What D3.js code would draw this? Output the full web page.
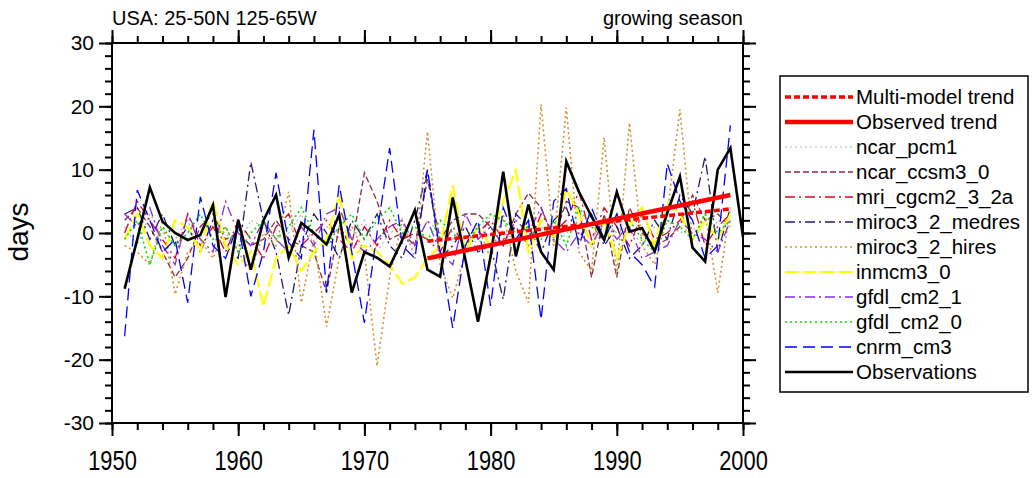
<!DOCTYPE html>
<html>
<head>
<meta charset="utf-8">
<script src="https://cdn.jsdelivr.net/npm/d3@7"></script>
<style>
  body { margin: 0; background: #fff; }
  svg { display: block; font-family: "Liberation Sans", Arial, sans-serif; }
</style>
</head>
<body>
<svg id="chart" width="1032" height="478"></svg>
<script>
// years of the model runs and of the observations
const modelYears = d3.range(1951, 2000);
const obsYears = d3.range(1951, 2001);

const xTicks = [1950, 1960, 1970, 1980, 1990, 2000];
const yTicks = [-30, -20, -10, 0, 10, 20, 30];

const observations = [-8.8, -1.0, 7.2, 1.8, 0.0, -1.1, -0.3, 4.4, -10.1, 2.1,
  -5.8, 2.0, 6.0, -3.9, 1.6, 0.0, -1.8, 2.9, -9.4, -3.0,
  -3.9, -5.3, -1.1, 3.6, -5.8, -6.9, 5.6, -4.2, -14.0, -3.7,
  9.7, -3.7, 4.5, -3.0, -5.8, 11.3, 6.5, 2.6, -1.1, 6.5,
  0.2, 0.8, -2.9, 3.2, 8.9, -2.3, -4.5, 10.0, 13.4, -0.6];

const ncar_pcm1 = [1, -2, 3, 0, -1, 2, -3, 1, 0, -2,
  2, 1, -1, 0, 3, -2, 1, 0, -1, 2,
  -3, 0, 1, -2, 2, 0, -1, 1, -2, 3,
  0, -1, 2, 1, -2, 0, 1, -1, 2, 0,
  1, -2, 1, 2, 0, 1, -1, 2, 1];
const ncar_ccsm3_0 = [2, 4, 1, -3, -7, -4, 1, 3, -1, 0,
  -2, -1, 2, -1, -2, -3, -9.4, 1, -2, 9.5,
  5, -1, 0, -2, 8.5, -1, 2, 3, 3, 1,
  -2, 3, 6.3, 4, -1, 5, 4, -7, 3, -7,
  4, 0, -2, -1, 1, 6, 2, 3, 1];
const mri_cgcm2_3_2a = [0, 5, 2, -1, -4, 3, -2, 1, -3, 2,
  -1, -4, 1, 3, -2, 0, 2, -1, -3, 1,
  -2, 2, -1, 0, -1, -3, 1, -2, 0, 2,
  -1, 1, -2, 3, 0, 2, 6.5, -1, 4, 1,
  -2, 3, -1, 0, 2, 5, -2, 1, 3];
const miroc3_2_medres = [3, 4, -1, 3, -2, 1, -3, 2, -2, -4,
  11.2, 2, -3, -13, -2, 3, 0, -4, 2, -1,
  3, -2, -4, 2, 10, -4, -2, 1, -3, -2,
  -10.5, 3, 1, -3, 2, 4, -1, 3, -2, 1,
  -4, -2, 2, -1, 6, 3, 12.1, -3, 4];
const miroc3_2_hires = [-2, -3, -5, 2, -9.7, -3, -1, -4, 1, -3,
  -6, 0, -2, 6.5, -11, -1, -14.8, -4, 1, -3,
  -21, -7, 2, -4, 16, -5, -10.3, -3, 1, -4,
  3, -6, -11, 20.3, -2, 19.8, -3, -6, 15.1, -6.6,
  17.4, -2, -5, 3, 19.5, -1, 3, -9.4, 4];
const inmcm3_0 = [-1, 3, -2, -4, 2, 1, -3, 5, -2, -5,
  -3, -11.6, -4, -2, -6, -3, -1, 6, -4, -2,
  -3, -5, -8, -7, -4, -2, 7.5, -3, 1, -2,
  5, 9.9, -3, 2, -1, 7, 3, -2, 2, -4,
  1, 4, -2, 5, 3, -1, 2, -1, 3];
const gfdl_cm2_1 = [3, 1, 4, -2, -5, 3, -1, -3, 5, 0,
  -2, 2, -1, -3, 1, -2, 3, 4, -1, -3,
  -1, 1, 2, -2, 2, -3, -5, 3, -1, 1,
  -2, 2, 0, 4, -1, -3, 0, -2, 2, -1,
  1, -4, -3, -2, 2, 0, -1, -3, 2];
const gfdl_cm2_0 = [-1, 2, -5, 1, -2, 0, 3, -1, 1, -3,
  0, 2, -1, 1, 4, 0, -2, 1, 3, -1,
  2, 4, 0, 1, -1, 2, 0, -2, 1, 3,
  2, 0, 1, -1, 2, -2, 4, 1, -1, 3,
  2, -1, -3, 2, 1, -1, 3, 0, 2];
const cnrm_cm3 = [-16.3, 6.8, 2, -3, -1, -11, 5.7, -2, -4, 1.5,
  -10, -3, 9.5, -1.5, -4, 16.3, -9.4, 7.6, -3, -14.2,
  0, 13.4, -2, -4, 10, -3, -15, -2, 2, -11.5,
  4, -1, 2, -13.7, 5, 7, -2, 4, -1, 3,
  -3, -5, -8.5, 11, 5, 2, -4, -2, 17];

// linear trends over 1975-1999: [start, end]
const trendYears = [1975, 1999];
const observedTrend = [-4.0, 6.0];
const multiModelTrend = [-1.3, 3.8];

const series = [
  { name: "ncar_pcm1", values: ncar_pcm1, color: "#b4b4b4", width: 1.2, dash: "2,3" },
  { name: "ncar_ccsm3_0", values: ncar_ccsm3_0, color: "#8c2a3c", width: 1.3, dash: "6,3" },
  { name: "mri_cgcm2_3_2a", values: mri_cgcm2_3_2a, color: "#e8001c", width: 1.3, dash: "10,4,2,4" },
  { name: "miroc3_2_medres", values: miroc3_2_medres, color: "#1c1c70", width: 1.3, dash: "10,4,2,4" },
  { name: "miroc3_2_hires", values: miroc3_2_hires, color: "#d2902e", width: 1.6, dash: "2,3" },
  { name: "inmcm3_0", values: inmcm3_0, color: "#ffff00", width: 2.2, dash: "14,4" },
  { name: "gfdl_cm2_1", values: gfdl_cm2_1, color: "#8a2be2", width: 1.3, dash: "10,4,2,4" },
  { name: "gfdl_cm2_0", values: gfdl_cm2_0, color: "#00e000", width: 1.6, dash: "2,3" },
  { name: "cnrm_cm3", values: cnrm_cm3, color: "#0000ff", width: 1.3, dash: "12,6" }
];

const svg = d3.select("#chart");
const frame = { left: 112, right: 743, top: 43, bottom: 423 };

const x = d3.scaleLinear().domain([1950, 2000]).range([frame.left, frame.right]);
const y = d3.scaleLinear().domain([-30, 30]).range([frame.bottom, frame.top]);

const line = d3.line().x(d => x(d[0])).y(d => y(d[1]));

// model runs
series.forEach(s => {
  svg.append("path")
    .datum(modelYears.map((yr, i) => [yr, s.values[i]]))
    .attr("d", line)
    .attr("fill", "none")
    .attr("stroke", s.color)
    .attr("stroke-width", s.width)
    .attr("stroke-dasharray", s.dash);
});

// observations
svg.append("path")
  .datum(obsYears.map((yr, i) => [yr, observations[i]]))
  .attr("d", line)
  .attr("fill", "none")
  .attr("stroke", "#000")
  .attr("stroke-width", 2.6)
  .attr("stroke-linejoin", "miter");

// trends
svg.append("path")
  .datum(trendYears.map((yr, i) => [yr, multiModelTrend[i]]))
  .attr("d", line)
  .attr("fill", "none")
  .attr("stroke", "#ff0000")
  .attr("stroke-width", 3.5)
  .attr("stroke-dasharray", "6,3");

svg.append("path")
  .datum(trendYears.map((yr, i) => [yr, observedTrend[i]]))
  .attr("d", line)
  .attr("fill", "none")
  .attr("stroke", "#ff0000")
  .attr("stroke-width", 4.5);

// axes: outward major and minor ticks on all four sides
function styleAxis(g) {
  g.select(".domain").remove();
  g.selectAll("line").attr("stroke", "#000").attr("stroke-width", 2);
}

const minorX = d3.range(1950, 2001, 2);
const minorY = d3.range(-30, 31, 2);
const plain = d => String(d);  // hyphen minus, like the original

[["bottom", frame.bottom, d3.axisBottom], ["top", frame.top, d3.axisTop]].forEach(([side, pos, fn]) => {
  svg.append("g").attr("transform", `translate(0,${pos})`)
    .call(fn(x).tickValues(minorX).tickSize(7).tickFormat(""))
    .call(styleAxis);
  const g = svg.append("g").attr("transform", `translate(0,${pos})`)
    .call(fn(x).tickValues(xTicks).tickSize(13).tickPadding(14).tickFormat(plain))
    .call(styleAxis);
  if (side === "bottom") {
    g.selectAll("text")
      .attr("font-size", 28)
      .attr("transform", "scale(0.78,1)")
      .attr("fill", "#000");
  } else {
    g.selectAll("text").remove();
  }
});

[["left", frame.left, d3.axisLeft], ["right", frame.right, d3.axisRight]].forEach(([side, pos, fn]) => {
  svg.append("g").attr("transform", `translate(${pos},0)`)
    .call(fn(y).tickValues(minorY).tickSize(7).tickFormat(""))
    .call(styleAxis);
  const g = svg.append("g").attr("transform", `translate(${pos},0)`)
    .call(fn(y).tickValues(yTicks).tickSize(13).tickPadding(5).tickFormat(plain))
    .call(styleAxis);
  if (side === "left") {
    g.selectAll("text")
      .attr("font-size", 21)
      .attr("fill", "#000");
  } else {
    g.selectAll("text").remove();
  }
});

svg.append("rect")
  .attr("x", frame.left)
  .attr("y", frame.top)
  .attr("width", frame.right - frame.left)
  .attr("height", frame.bottom - frame.top)
  .attr("fill", "none")
  .attr("stroke", "#000")
  .attr("stroke-width", 2);

// titles
svg.append("text")
  .attr("x", frame.left)
  .attr("y", 25)
  .attr("font-size", 20)
  .text("USA: 25-50N 125-65W");

svg.append("text")
  .attr("x", frame.right)
  .attr("y", 25)
  .attr("text-anchor", "end")
  .attr("font-size", 20)
  .text("growing season");

svg.append("text")
  .attr("transform", `translate(28,232) rotate(-90)`)
  .attr("text-anchor", "middle")
  .attr("font-size", 28)
  .text("days");

// legend
const legendItems = [
  { name: "Multi-model trend", color: "#ff0000", width: 3.5, dash: "6,3" },
  { name: "Observed trend", color: "#ff0000", width: 4.5, dash: null }
].concat(series).concat([{ name: "Observations", color: "#000", width: 2.6, dash: null }]);

const legend = svg.append("g");
legend.append("rect")
  .attr("x", 780)
  .attr("y", 76)
  .attr("width", 248)
  .attr("height", 316)
  .attr("fill", "#fff")
  .attr("stroke", "#000")
  .attr("stroke-width", 1.5);

const rows = legend.selectAll("g.row")
  .data(legendItems)
  .join("g")
  .attr("class", "row")
  .attr("transform", (d, i) => `translate(0,${97 + i * 25})`);

rows.append("line")
  .attr("x1", 785)
  .attr("x2", 853)
  .attr("stroke", d => d.color)
  .attr("stroke-width", d => d.width)
  .attr("stroke-dasharray", d => d.dash);

rows.append("text")
  .attr("x", 856)
  .attr("dy", "0.35em")
  .attr("font-size", 20.5)
  .text(d => d.name);
</script>
</body>
</html>
